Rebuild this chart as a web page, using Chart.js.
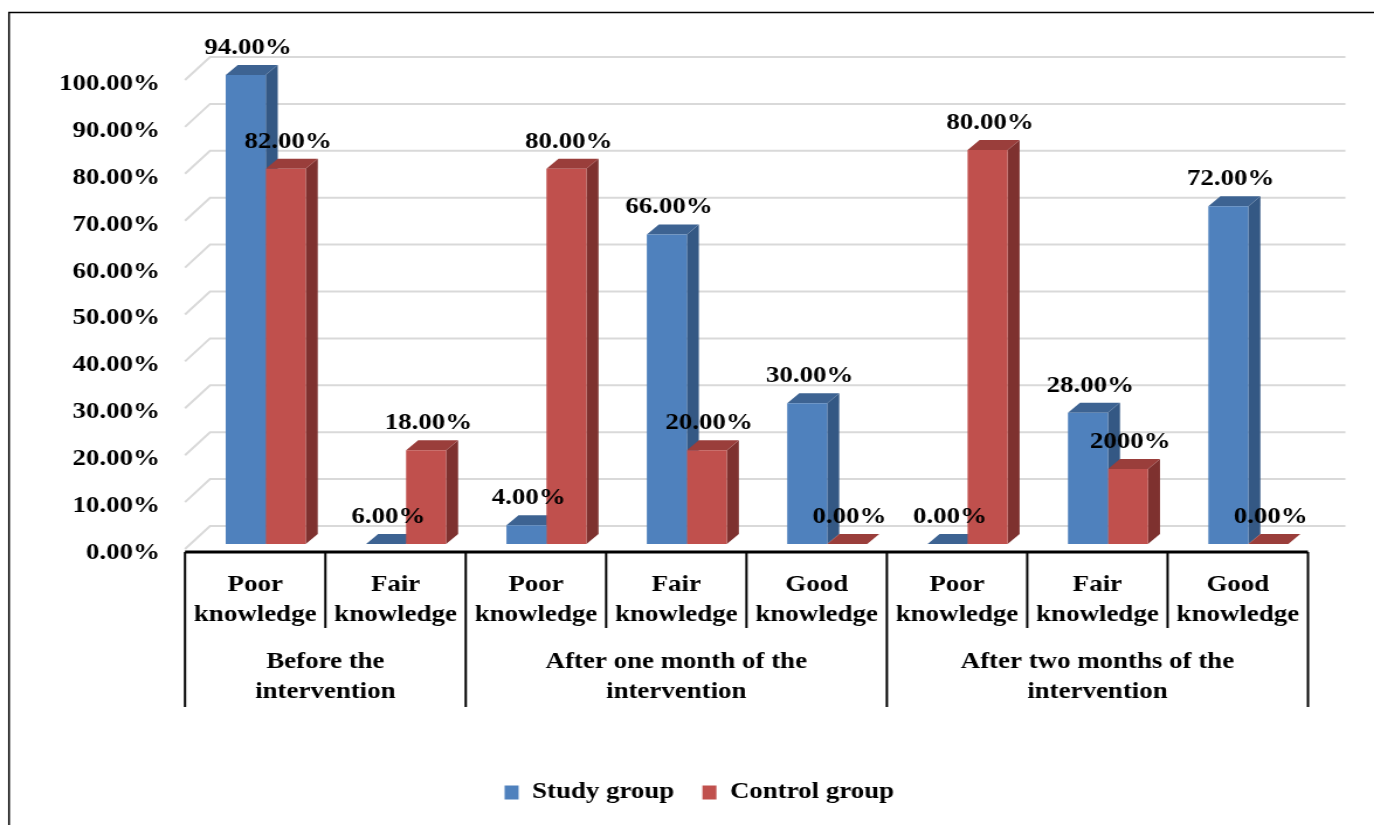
<!DOCTYPE html>
<html>
<head>
<meta charset="UTF-8">
<title>Knowledge levels</title>
<style>
    body { margin: 0; background: #fff; overflow: hidden; }
    #wrap { width: 1175px; height: 825px; transform: scaleX(1.1694); transform-origin: 0 0; }
</style>
</head>
<body>
<div id="wrap"><canvas id="chart" width="1175" height="825"></canvas></div>
<script src="https://cdn.jsdelivr.net/npm/chart.js"></script>
<script>
const categories = [
    ['Poor', 'knowledge'], ['Fair', 'knowledge'],
    ['Poor', 'knowledge'], ['Fair', 'knowledge'], ['Good', 'knowledge'],
    ['Poor', 'knowledge'], ['Fair', 'knowledge'], ['Good', 'knowledge']
];
const groups = [
    ['Before the', 'intervention'],
    ['After one month of the', 'intervention'],
    ['After two months of the', 'intervention']
];
const groupSizes = [2, 3, 3];
const seriesNames = ['Study group', 'Control group'];
const studyValues = [100, 0, 4, 66, 30, 0, 28, 72];
const controlValues = [80, 20, 80, 20, 0, 84, 16, 0];
const studyLabels = ['94.00%', '6.00%', '4.00%', '66.00%', '30.00%', '0.00%', '28.00%', '72.00%'];
const controlLabels = ['82.00%', '18.00%', '80.00%', '20.00%', '0.00%', '80.00%', '2000%', '0.00%'];
const yTicks = [0, 10, 20, 30, 40, 50, 60, 70, 80, 90, 100];

const FONT = '"Liberation Serif", "Times New Roman", serif';
const FS = 23;
const DX = 10.3, DY = -10;       // depth of the bars
const WX = 21.4, WY = -23;       // depth of the walls (front -> back)
const FRONT_X = -9, FRONT_Y = 5; // front plane vs bar plane

function face(ctx, pts, color) {
    ctx.fillStyle = color;
    ctx.beginPath();
    ctx.moveTo(pts[0][0], pts[0][1]);
    for (let i = 1; i < pts.length; i++) ctx.lineTo(pts[i][0], pts[i][1]);
    ctx.closePath();
    ctx.fill();
}

const knowledge3d = {
    id: 'knowledge3d',
    beforeDraw(chart) {
        const ctx = chart.ctx, a = chart.chartArea, ys = chart.scales.y;
        ctx.save();
        // outer frame
        ctx.strokeStyle = '#000';
        ctx.lineWidth = 1.5;
        ctx.beginPath();
        ctx.moveTo(7.7, 830); ctx.lineTo(7.7, 12.5); ctx.lineTo(1200, 12.5);
        ctx.stroke();
        // back wall gridlines + side wall
        ctx.strokeStyle = '#d9d9d9';
        ctx.lineWidth = 2;
        const fx = a.left + FRONT_X;
        yTicks.forEach(v => {
            const y = ys.getPixelForValue(v) + FRONT_Y;
            ctx.beginPath();
            ctx.moveTo(fx, y);
            ctx.lineTo(fx + WX, y + WY);
            ctx.lineTo(a.right + 23, y + WY);
            ctx.stroke();
        });
        ctx.restore();
    },
    beforeDatasetsDraw(chart) {
        const ctx = chart.ctx;
        const shades = [['#3d6392', '#345884'], ['#9a3e3b', '#7e312f']];
        ctx.save();
        const n = chart.data.labels.length;
        for (let i = 0; i < n; i++) {
            chart.data.datasets.forEach((ds, d) => {
                const bar = chart.getDatasetMeta(d).data[i];
                const {x, y, base, width} = bar.getProps(['x', 'y', 'base', 'width'], true);
                const l = x - width / 2, r = x + width / 2;
                face(ctx, [[r, y], [r + DX, y + DY], [r + DX, base + DY], [r, base]], shades[d][1]);
                face(ctx, [[l, y], [r, y], [r + DX, y + DY], [l + DX, y + DY]], shades[d][0]);
            });
        }
        ctx.restore();
    },
    afterDatasetsDraw(chart) {
        const ctx = chart.ctx;
        const texts = [studyLabels, controlLabels];
        ctx.save();
        ctx.font = 'bold ' + FS + 'px ' + FONT;
        ctx.fillStyle = '#000';
        ctx.textAlign = 'center';
        ctx.textBaseline = 'middle';
        chart.data.datasets.forEach((ds, d) => {
            chart.getDatasetMeta(d).data.forEach((bar, i) => {
                ctx.fillText(texts[d][i], bar.x + 2, bar.y - 27);
            });
        });
        ctx.restore();
    },
    afterDraw(chart) {
        const ctx = chart.ctx, a = chart.chartArea;
        const fx = a.left + FRONT_X;
        const cw = (a.right - a.left) / categories.length;
        const axisY = a.bottom + 8;
        ctx.save();
        ctx.strokeStyle = '#000';
        ctx.lineWidth = 3;
        ctx.beginPath();
        ctx.moveTo(fx, axisY);
        ctx.lineTo(fx + cw * categories.length, axisY);
        ctx.stroke();
        // dividers
        const bounds = [0];
        groupSizes.forEach(s => bounds.push(bounds[bounds.length - 1] + s));
        ctx.lineWidth = 2;
        for (let i = 0; i <= categories.length; i++) {
            const x = fx + cw * i;
            ctx.beginPath();
            ctx.moveTo(x, axisY);
            ctx.lineTo(x, bounds.includes(i) ? 707 : 628);
            ctx.stroke();
        }
        // group labels
        ctx.font = 'bold ' + FS + 'px ' + FONT;
        ctx.fillStyle = '#000';
        ctx.textAlign = 'center';
        ctx.textBaseline = 'middle';
        groups.forEach((g, k) => {
            const cx = fx + cw * (bounds[k] + groupSizes[k] / 2);
            ctx.fillText(g[0], cx, 662);
            ctx.fillText(g[1], cx, 692);
        });
        ctx.restore();
    }
};

new Chart(document.getElementById('chart'), {
    type: 'bar',
    data: {
        labels: categories,
        datasets: [
            { label: seriesNames[0], data: studyValues, backgroundColor: '#4f81bd' },
            { label: seriesNames[1], data: controlValues, backgroundColor: '#c0504d' }
        ]
    },
    options: {
        responsive: false,
        animation: false,
        categoryPercentage: 0.57,
        barPercentage: 1,
        layout: { padding: { top: 75, right: 0, bottom: 11, left: 21 } },
        plugins: {
            tooltip: { enabled: false },
            legend: {
                position: 'bottom',
                labels: {
                    boxWidth: 12, boxHeight: 14, padding: 24, color: '#000',
                    font: { family: FONT, size: FS, weight: 'bold' }
                }
            }
        },
        scales: {
            x: {
                grid: { display: false, drawTicks: false },
                border: { display: false },
                ticks: {
                    color: '#000', padding: 26, labelOffset: -9,
                    maxRotation: 0, autoSkip: false,
                    font: { family: FONT, size: FS, weight: 'bold', lineHeight: 1.32 }
                },
                afterFit: s => { s.height = 213; }
            },
            y: {
                min: 0, max: 100,
                grid: { display: false, drawTicks: false },
                border: { display: false },
                ticks: {
                    stepSize: 10, color: '#000', padding: 30.4, labelOffset: 9,
                    font: { family: FONT, size: FS, weight: 'bold' },
                    callback: v => v.toFixed(2) + '%'
                },
                afterFit: s => { s.width = 146.2; }
            },
            y2: {
                position: 'right',
                grid: { display: false, drawTicks: false },
                border: { display: false },
                ticks: { display: false },
                afterFit: s => { s.width = 47.5; }
            }
        }
    },
    plugins: [knowledge3d]
});
</script>
</body>
</html>
